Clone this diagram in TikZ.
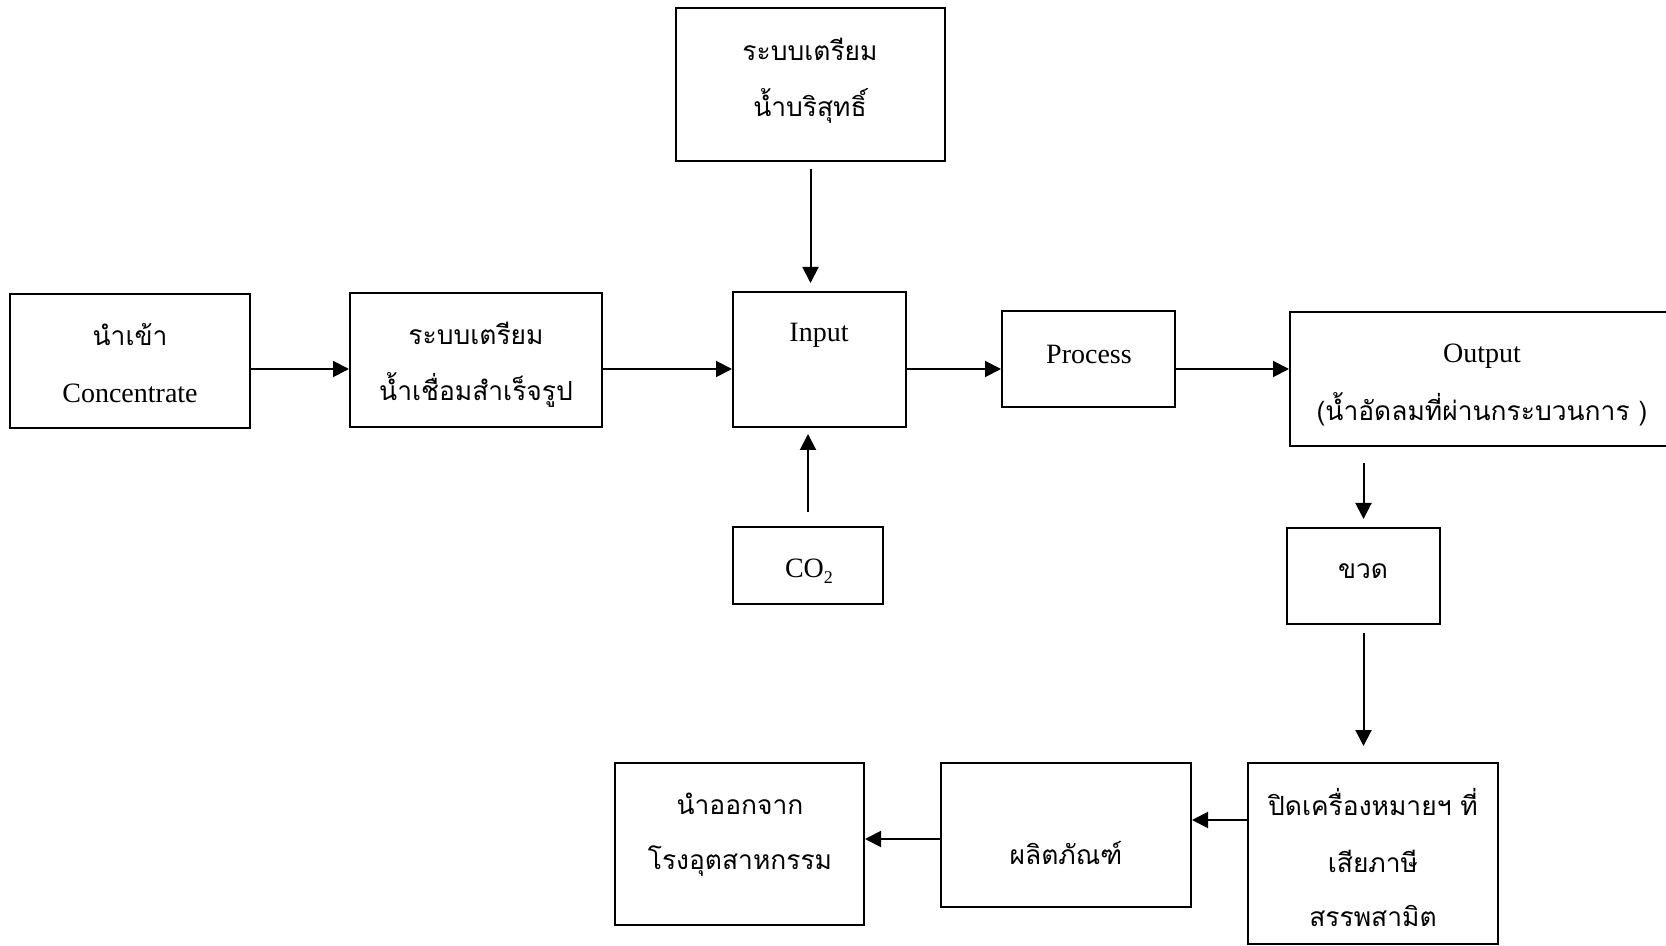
\documentclass[tikz,border=0pt]{standalone}
\usepackage{fontspec}
\setmainfont{Liberation Serif}
\newfontfamily\thai[Script=Thai]{Loma}
\usetikzlibrary{arrows.meta}
\tikzset{
  box/.style={draw, line width=1pt, inner sep=0pt},
  arr/.style={line width=1pt, -{Triangle[length=8pt,width=8pt]}},
  lbl/.style={inner sep=0pt, font=\fontsize{14}{16}\selectfont},
  tlbl/.style={inner sep=0pt, font=\fontsize{13.2}{16}\selectfont\thai},
}
\begin{document}
\begin{tikzpicture}[x=0.5pt,y=-0.5pt]
\useasboundingbox (0,0) rectangle (1666,946);
% boxes
\node[box, minimum width=120pt, minimum height=67pt] (b1) at (130,361) {};
\node[box, minimum width=126pt, minimum height=67pt] (b2) at (476,360) {};
\node[box, minimum width=134.5pt, minimum height=76.5pt] (b3) at (810.5,84.5) {};
\node[box, minimum width=86.5pt, minimum height=67.5pt] (input) at (819.5,359.5) {};
\node[box, minimum width=75pt, minimum height=38.5pt] (co2) at (808,565.5) {};
\node[box, minimum width=86.5pt, minimum height=48pt] (process) at (1088.5,359) {};
\node[box, minimum width=195pt, minimum height=67pt] (output) at (1485,379) {};
\node[box, minimum width=76.5pt, minimum height=48pt] (bottle) at (1363.5,576) {};
\node[box, minimum width=125pt, minimum height=90.5pt] (seal) at (1373,853.5) {};
\node[box, minimum width=125pt, minimum height=72pt] (product) at (1066,835) {};
\node[box, minimum width=124.5pt, minimum height=81pt] (export) at (739.5,844) {};
% texts
\node[tlbl] (t1a) at (130,335) {นำเข้า};
\node[lbl] (t1b) at (130,393) {Concentrate};
\node[tlbl] (t2a) at (476,333) {ระบบเตรียม};
\node[tlbl] (t2b) at (476,390) {น้ำเชื่อมสำเร็จรูป};
\node[tlbl] (t3a) at (810,49) {ระบบเตรียม};
\node[tlbl] (t3b) at (810,106) {น้ำบริสุทธิ์};
\node[lbl] (tin) at (819,335) {Input};
\node[lbl] (tco) at (809,571) {CO\raisebox{-3pt}{\fontsize{9}{10}\selectfont 2}};
\node[lbl] (tpr) at (1089,354) {Process};
\node[lbl] (tout) at (1482,356) {Output};
\node[tlbl] (tout2) at (1482,409) {(น้ำอัดลมที่ผ่านกระบวนการ )};
\node[tlbl] (tbot) at (1363,571) {ขวด};
\node[tlbl] (ts1) at (1373,802) {ปิดเครื่องหมายฯ ที่};
\node[tlbl] (ts2) at (1373,861) {เสียภาษี};
\node[tlbl] (ts3) at (1373,916) {สรรพสามิต};
\node[tlbl] (tp) at (1066,853) {ผลิตภัณฑ์};
\node[tlbl] (te1) at (740,804) {นำออกจาก};
\node[tlbl] (te2) at (740,861) {โรงอุตสาหกรรม};
% rows
\coordinate (row) at (0,369);
\coordinate (rowa) at (0,820);
\coordinate (rowb) at (0,839);
% arrows
\draw[arr] (b1.east |- row) -- (b2.west |- row);
\draw[arr] (b2.east |- row) -- (input.west |- row);
\draw[arr] (input.east |- row) -- (process.west |- row);
\draw[arr] (process.east |- row) -- (output.west |- row);
\draw[arr] ([yshift=-3.5pt]b3.south) -- ([yshift=4pt]b3.south |- input.north);
\draw[arr] ([yshift=7pt]co2.north) -- ([yshift=-3pt]co2.north |- input.south);
\draw[arr] ([yshift=-8pt]bottle.north |- output.south) -- ([yshift=4pt]bottle.north);
\draw[arr] ([yshift=-4pt]bottle.south) -- ([yshift=8pt]bottle.south |- seal.north);
\draw[arr] (seal.west |- rowa) -- (product.east |- rowa);
\draw[arr] (product.west |- rowb) -- (export.east |- rowb);
\end{tikzpicture}
\end{document}
